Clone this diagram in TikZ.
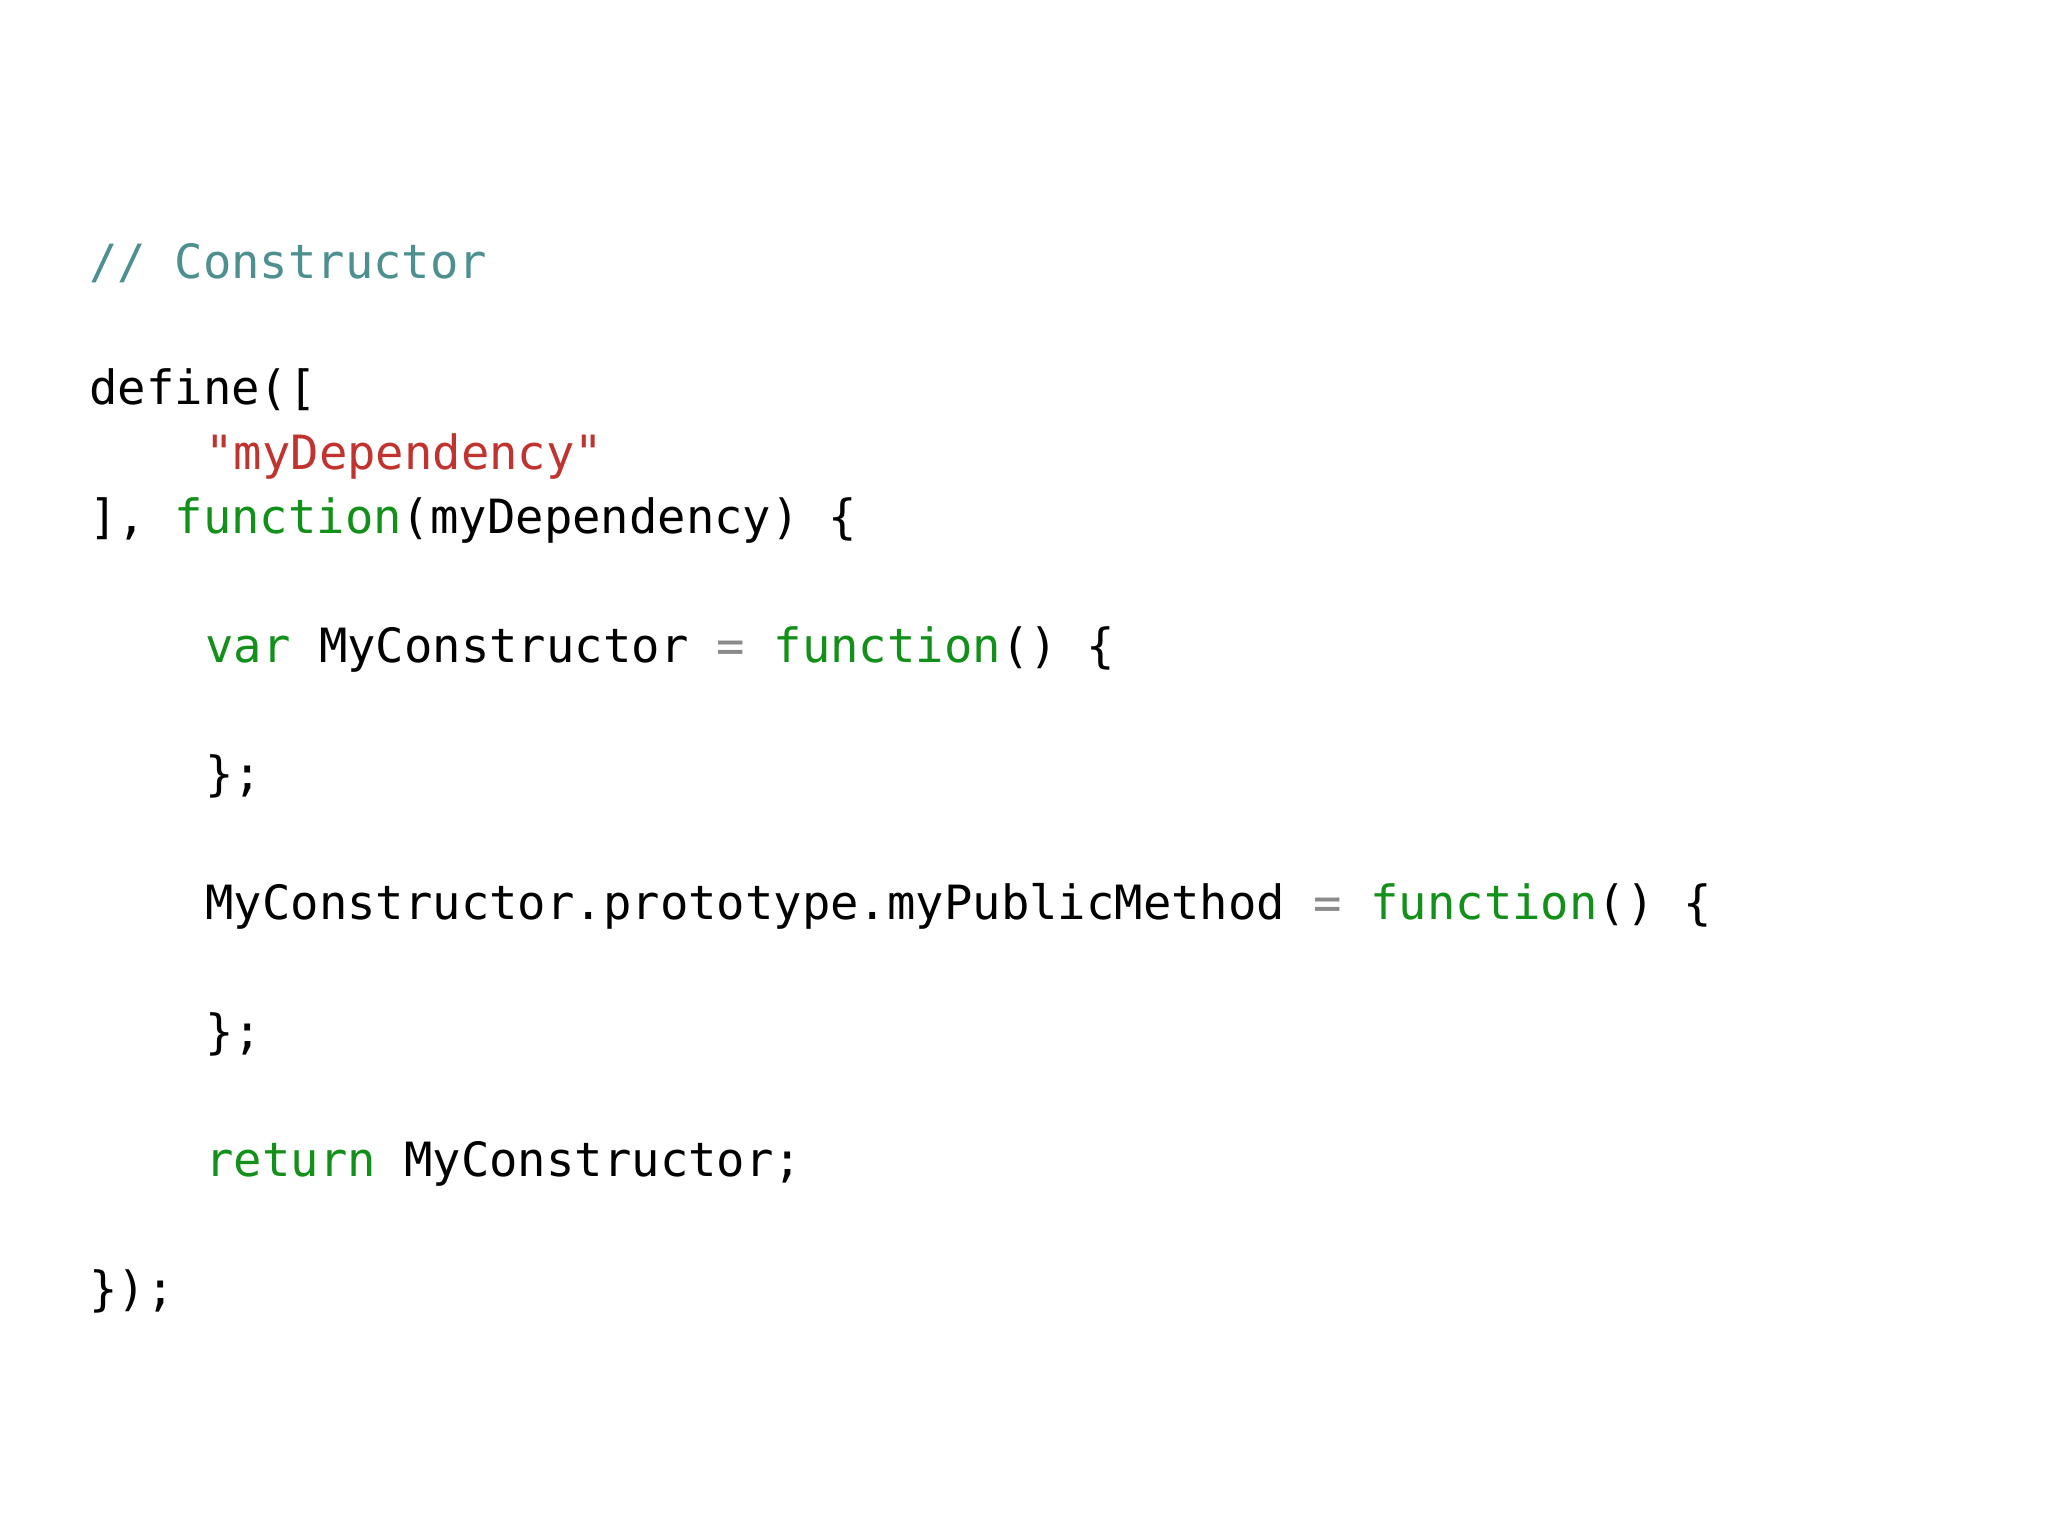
\documentclass[tikz,border=0pt]{standalone}
\usepackage{fontspec}
\setmonofont{DejaVu Sans Mono}
\definecolor{cmt}{HTML}{4E8F8F}
\definecolor{str}{HTML}{C0332E}
\definecolor{kw}{HTML}{12901A}
\definecolor{op}{HTML}{8A8A8A}
\begin{document}
\begin{tikzpicture}[x=0.5pt,y=-0.5pt,
  code/.style={anchor=base west,inner sep=0pt,font=\ttfamily\fontsize{23.6}{28}\selectfont}]
\useasboundingbox[fill=white] (0,0) rectangle (2048,1536);
\newcommand{\K}[1]{\textcolor{kw}{#1}}
\node[code,text=cmt] (l1) at (89,278) {// Constructor};
\node[code] (l2) at (89,404) {define([};
\node[code,text=str] (l3) at (205,469) {"myDependency"};
\node[code] (l4) at (89,533) {], \K{function}(myDependency) \{};
\node[code] (l5) at (205,662) {\K{var} MyConstructor \textcolor{op}{=} \K{function}() \{};
\node[code] (l6) at (205,790) {\};};
\node[code] (l7) at (205,919) {MyConstructor.prototype.myPublicMethod \textcolor{op}{=} \K{function}() \{};
\node[code] (l8) at (205,1048) {\};};
\node[code] (l9) at (205,1176) {\K{return} MyConstructor;};
\node[code] (l10) at (89,1305) {\});};
\end{tikzpicture}
\end{document}
